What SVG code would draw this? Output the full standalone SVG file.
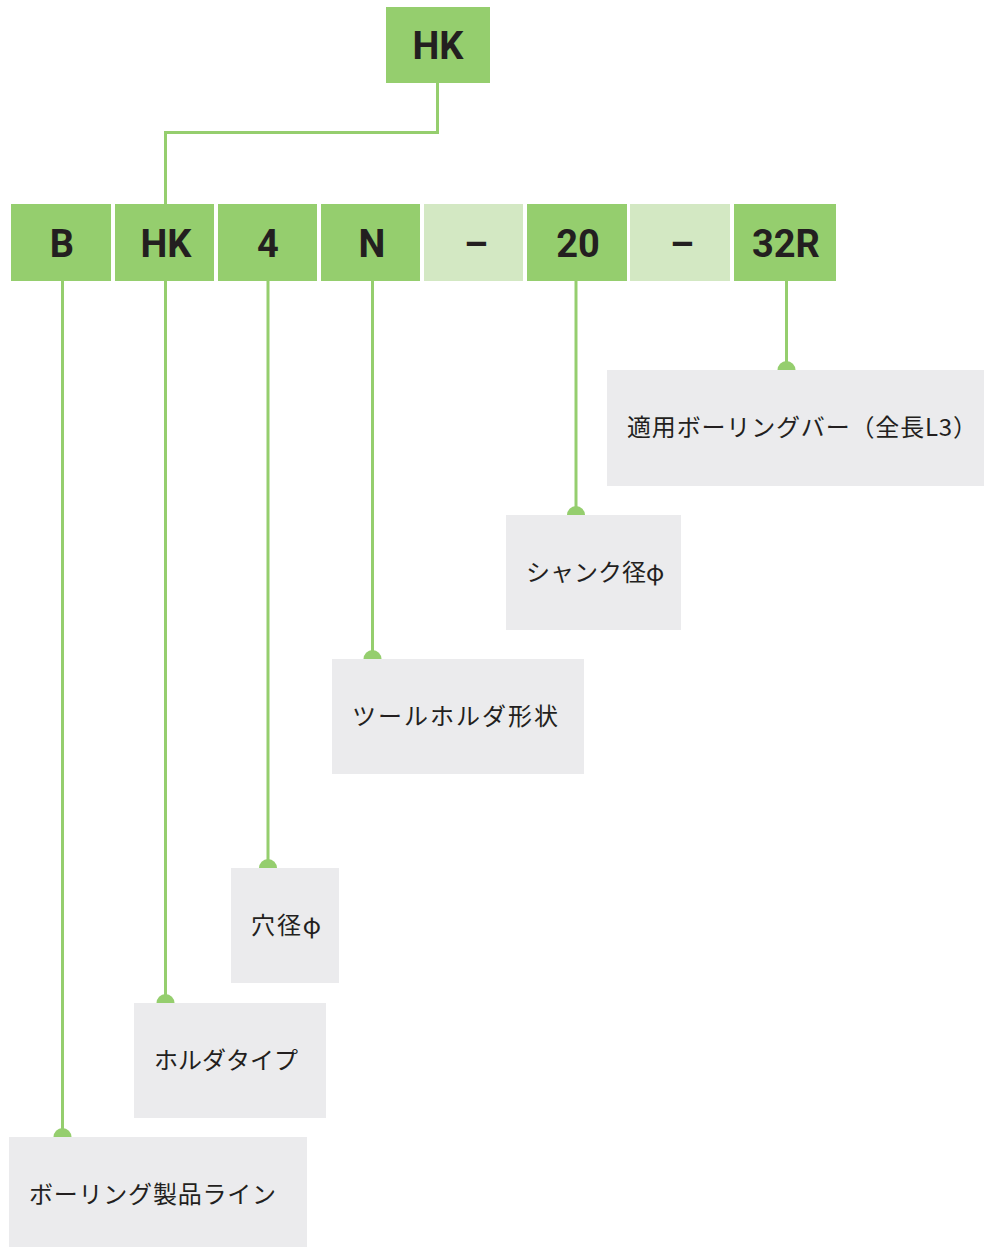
<svg xmlns="http://www.w3.org/2000/svg" width="984" height="1247" viewBox="0 0 984 1247">
<style>
.code{fill:#95CE6E}
.sep{fill:#D3E8C3}
.lbl{fill:#EBEBED}
.ct{font-family:Roboto,"Liberation Sans",sans-serif;font-weight:bold;font-size:38px;fill:#231F20;text-anchor:middle}
.lt{font-family:"Noto Sans CJK JP","Noto Sans",sans-serif;font-size:24px;fill:#231F20}
.ln{stroke:#95CE6E;stroke-width:3;fill:none}
.dot{fill:#95CE6E}
</style>
<rect width="984" height="1247" fill="#FFFFFF"/>
<g id="connectors">
<polyline class="ln" points="437.5,83 437.5,132.5 165.5,132.5 165.5,204"/>
<line class="ln" x1="62.5" y1="281" x2="62.5" y2="1137"/>
<line class="ln" x1="165.5" y1="281" x2="165.5" y2="1003"/>
<line class="ln" x1="268" y1="281" x2="268" y2="868"/>
<line class="ln" x1="372.5" y1="281" x2="372.5" y2="659"/>
<line class="ln" x1="576" y1="281" x2="576" y2="515"/>
<line class="ln" x1="786.5" y1="281" x2="786.5" y2="370"/>
<circle class="dot" cx="62.5" cy="1137" r="9"/>
<circle class="dot" cx="165.5" cy="1003" r="9"/>
<circle class="dot" cx="268" cy="868" r="9"/>
<circle class="dot" cx="372.5" cy="659" r="9"/>
<circle class="dot" cx="576" cy="515" r="9"/>
<circle class="dot" cx="786.5" cy="370" r="9"/>
</g>
<g id="top-hk"><rect class="code" x="386" y="7" width="104" height="76"/><text class="ct" x="438" y="59">HK</text></g>
<g id="code-b"><rect class="code" x="11" y="204" width="100" height="77"/><text class="ct" x="62" y="257">B</text></g>
<g id="code-hk"><rect class="code" x="115" y="204" width="99" height="77"/><text class="ct" x="166" y="257">HK</text></g>
<g id="code-4"><rect class="code" x="218" y="204" width="99" height="77"/><text class="ct" x="268" y="257">4</text></g>
<g id="code-n"><rect class="code" x="321" y="204" width="99" height="77"/><text class="ct" x="372" y="257">N</text></g>
<g id="sep-1"><rect class="sep" x="424" y="204" width="99" height="77"/><text class="ct" x="476" y="257">–</text></g>
<g id="code-20"><rect class="code" x="527" y="204" width="100" height="77"/><text class="ct" x="578" y="257">20</text></g>
<g id="sep-2"><rect class="sep" x="630" y="204" width="100" height="77"/><text class="ct" x="682" y="257">–</text></g>
<g id="code-32r"><rect class="code" x="734" y="204" width="102" height="77"/><text class="ct" x="786" y="257">32R</text></g>
<g id="label-bar"><rect class="lbl" x="607" y="370" width="377" height="116"/><text class="lt" x="627" y="436" textLength="350" lengthAdjust="spacing">適用ボーリングバー（全長L3）</text></g>
<g id="label-shank"><rect class="lbl" x="506" y="515" width="175" height="115"/><text class="lt" x="526" y="581">シャンク径φ</text></g>
<g id="label-shape"><rect class="lbl" x="332" y="659" width="252" height="115"/><text class="lt" x="352" y="725" textLength="206" lengthAdjust="spacing">ツールホルダ形状</text></g>
<g id="label-hole"><rect class="lbl" x="231" y="868" width="108" height="115"/><text class="lt" x="251" y="934" textLength="70" lengthAdjust="spacing">穴径φ</text></g>
<g id="label-type"><rect class="lbl" x="134" y="1003" width="192" height="115"/><text class="lt" x="154" y="1069">ホルダタイプ</text></g>
<g id="label-line"><rect class="lbl" x="9" y="1137" width="298" height="110"/><text class="lt" x="29" y="1203" textLength="247" lengthAdjust="spacing">ボーリング製品ライン</text></g>
</svg>
